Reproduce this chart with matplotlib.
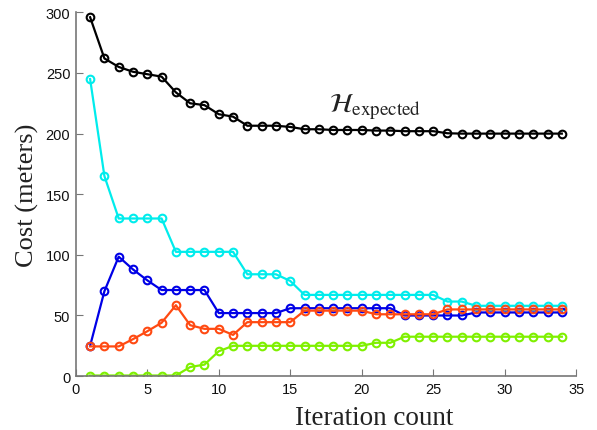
import numpy as np
import matplotlib
matplotlib.use('Agg')
import matplotlib.pyplot as plt

plt.rcParams['mathtext.fontset'] = 'stix'

# --- dados ---
iteracoes = list(range(1, 35))

custo_esperado = [296, 262, 255, 251, 249, 247, 234, 225, 223.5, 216, 214,
                  206.5, 206.5, 206.5, 205.5, 203.6, 203.6, 203, 203, 203,
                  202.5, 202.5, 202, 202, 202, 200.3, 200, 200, 200, 200,
                  200, 200, 200, 200]
custo_ciano = [245, 165, 130, 130, 130, 130, 102.5, 102.5, 102.5, 102.5, 102.5,
               84, 84, 84, 78.5, 67, 67, 67, 67, 67, 67, 67, 67, 67, 67,
               61.5, 61.5, 58, 58, 58, 58, 58, 58, 58]
custo_azul = [25, 70, 98.5, 88, 79, 71, 71, 71, 71, 52, 52, 52, 52, 52,
              56, 56, 56, 56, 56, 56, 56, 56, 50, 50, 50, 50, 50,
              52.5, 52.5, 52.5, 52.5, 52.5, 52.5, 52.5]
custo_vermelho = [24.5, 24.5, 24.5, 30.5, 37, 44, 58.5, 42, 39, 39, 34,
                  44.5, 44.5, 44.5, 44.5, 54, 54, 54, 54, 54, 51, 51, 51, 51,
                  51, 55, 55, 55, 55, 55, 55, 55, 55, 55]
custo_verde = [0.5, 0.5, 0.5, 0.5, 0.5, 0.5, 0.5, 7.5, 9.5, 20.5, 25, 25, 25,
               25, 25, 25, 25, 25, 25, 25, 27.5, 27.5, 32.5, 32.5, 32.5, 32.5,
               32.5, 32.5, 32.5, 32.5, 32.5, 32.5, 32.5, 32.5]

series = [
    (custo_esperado, '#000000'),
    (custo_ciano, '#00ECEC'),
    (custo_azul, '#0000E6'),
    (custo_vermelho, '#FF4A12'),
    (custo_verde, '#7FF000'),
]

fig = plt.figure(figsize=(5.97, 4.31), dpi=100)
ax = fig.add_axes([0.127, 0.125, 0.838, 0.844])

for valores, cor in series:
    ax.plot(iteracoes, valores, color=cor, linewidth=1.6, marker='o',
            markersize=5.5, markerfacecolor='none', markeredgewidth=1.5)

ax.text(17.7, 218, r'$\mathcal{H}_{\mathrm{expected}}$', fontsize=19.5,
        color='#222222')

ax.set_xlim(0, 35)
ax.set_ylim(0, 300)
ax.set_xticks(range(0, 36, 5))
ax.set_yticks(range(0, 301, 50))
ax.tick_params(direction='in', labelsize=10.5, length=5, pad=4,
               colors='#777777', labelcolor='#111111')
for lbl in ax.get_xticklabels() + ax.get_yticklabels():
    lbl.set_family('Liberation Sans')

for lado in ['top', 'right']:
    ax.spines[lado].set_visible(False)
for lado in ['left', 'bottom']:
    ax.spines[lado].set_color('#777777')
    ax.spines[lado].set_linewidth(1.2)

ax.set_xlabel('Iteration count', family='Liberation Serif', fontsize=19.5,
              color='#222222')
ax.set_ylabel('Cost (meters)', family='Liberation Serif', fontsize=19,
              color='#222222')
# o rótulo do eixo x fica deslocado para a direita na figura original
ax.xaxis.set_label_coords(0.596, -0.079)
ax.yaxis.set_label_coords(-0.073, 0.5)

fig.savefig('out.png', dpi=100)
